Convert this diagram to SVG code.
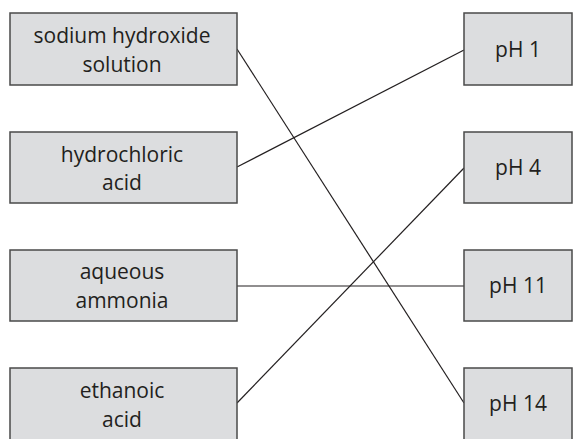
<svg xmlns="http://www.w3.org/2000/svg" width="573" height="439" viewBox="0 0 573 439">
<style>
.box{fill:#dcdddf;stroke:#4a4a4a;stroke-width:1.5}
.t{font-family:"Open Sans","Liberation Sans",sans-serif;font-size:21px;fill:#231f20;text-anchor:middle}
.c{stroke:#231f20;stroke-width:1.2;fill:none}
</style>
<rect width="573" height="439" fill="#fff"/>
<g id="connectors">
<line class="c" x1="237" y1="49" x2="464" y2="403"/>
<line class="c" x1="237" y1="167" x2="464" y2="50"/>
<line class="c" x1="237" y1="286" x2="464" y2="286"/>
<line class="c" x1="237" y1="403" x2="464" y2="168"/>
</g>
<g id="sodium-hydroxide">
<rect class="box" x="10" y="13" width="227" height="72"/>
<text class="t" x="122" y="43">sodium hydroxide</text>
<text class="t" x="122" y="72">solution</text>
</g>
<g id="hydrochloric-acid">
<rect class="box" x="10" y="132" width="227" height="71"/>
<text class="t" x="122" y="162">hydrochloric</text>
<text class="t" x="122" y="190">acid</text>
</g>
<g id="aqueous-ammonia">
<rect class="box" x="10" y="250" width="227" height="71"/>
<text class="t" x="122" y="279">aqueous</text>
<text class="t" x="122" y="308">ammonia</text>
</g>
<g id="ethanoic-acid">
<rect class="box" x="10" y="368" width="227" height="73"/>
<text class="t" x="122" y="398">ethanoic</text>
<text class="t" x="122" y="427">acid</text>
</g>
<g id="ph1">
<rect class="box" x="464" y="13" width="108" height="72"/>
<text class="t" x="518" y="57">pH 1</text>
</g>
<g id="ph4">
<rect class="box" x="464" y="132" width="108" height="71"/>
<text class="t" x="518" y="175">pH 4</text>
</g>
<g id="ph11">
<rect class="box" x="464" y="250" width="108" height="71"/>
<text class="t" x="518" y="293">pH 11</text>
</g>
<g id="ph14">
<rect class="box" x="464" y="368" width="108" height="73"/>
<text class="t" x="518" y="411">pH 14</text>
</g>
</svg>
